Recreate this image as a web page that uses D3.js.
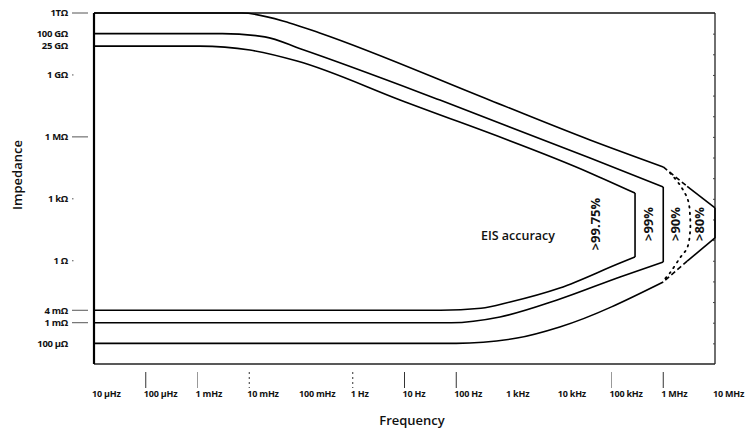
<!DOCTYPE html>
<html>
<head>
<meta charset="utf-8">
<script src="https://cdn.jsdelivr.net/npm/d3@7"></script>
<style>
  body { margin: 0; background: #fff; }
  text { font-family: "Open Sans", "DejaVu Sans", sans-serif; fill: #111; }
</style>
</head>
<body>
<div id="chart"></div>
<script>

// Impedance vs frequency, EIS accuracy contour chart

const width = 752;
const height = 432;
const margin = {left: 94, right: 37, top: 13, bottom: 68};

// x axis: frequency ticks (Hz) and labels
const freqTicks = [1e-5, 1e-4, 1e-3, 1e-2, 1e-1, 1, 10, 100, 1e3, 1e4, 1e5, 1e6, 1e7];
const freqLabels = ["10 µHz", "100 µHz", "1 mHz", "10 mHz", "100 mHz", "1 Hz", "10 Hz",
                    "100 Hz", "1 kHz", "10 kHz", "100 kHz", "1 MHz", "10 MHz"];
const freqTickMark = ["none", "solid", "gray", "dotted", "none", "dotted", "solid",
                      "solid", "none", "none", "gray", "solid", "none"];

// y axis: impedance ticks (Ohm) and labels
const impTicks = [1e12, 1e11, 2.5e10, 1e9, 1e6, 1e3, 1, 4e-3, 1e-3, 1e-4];
const impLabels = ["1TΩ", "100 GΩ", "25 GΩ", "1 GΩ", "1 MΩ", "1 kΩ", "1 Ω", "4 mΩ", "1 mΩ", "100 µΩ"];
const impTickMark = ["line", "none", "none", "dot", "line", "dot", "dot", "line", "line", "none"];

// accuracy boundaries, [frequency, impedance]
// >80% (outer)
const upper80 = [[1e-5, 1e12], [7.2e-3, 1e12], [0.06, 3.3e11], [0.23, 1.07e11], [437, 6.1e7],
                 [3.85e4, 7.1e5], [1e6, 3.5e4]];
const tip80 = [[1e6, 3.5e4], [2.9e6, 4.0e3], [1e7, 360], [1e7, 12.7], [2.9e6, 0.96], [1e6, 0.094]];
const tip80Dashed = [true, false, false, false, true];
const lower80 = [[1e-5, 1e-4], [100, 1e-4], [1.5e3, 1.8e-4], [1e4, 6.2e-4], [1e6, 0.094]];

// >90% (dotted)
const edge90 = [[1.35e6, 1.8e4], [2.1e6, 4.7e3], [3.0e6, 880], [3.3e6, 148], [3.3e6, 25],
                [2.9e6, 4.2], [2.1e6, 1.37], [1.35e6, 0.26], [1.03e6, 0.117]];

// >99%
const upper99 = [[1e-5, 1e11], [3e-3, 1e11], [0.02, 7e10], [0.1, 1.8e10], [48.5, 6.1e7],
                 [3.85e4, 9.5e4], [1e6, 3750]];
const lower99 = [[1e-5, 1e-3], [80, 1e-3], [700, 1.9e-3], [8.9e3, 0.0126], [1.46e5, 0.164], [1e6, 0.875]];

// >99.75%
const upper9975 = [[1e-5, 2.5e10], [1.1e-3, 2.5e10], [0.0103, 1.6e10], [0.084, 4.7e9], [8.2, 6.1e7],
                   [3.85e4, 1.8e4], [2.85e5, 1900]];
const lower9975 = [[1e-5, 4e-3], [50, 4e-3], [300, 5e-3], [1.1e3, 0.0101], [1e4, 0.048],
                   [1.46e5, 0.78], [2.85e5, 1.53]];

// region labels
const regionLabels = [">99.75%", ">99%", ">90%", ">80%"];
const regionLabelFreq = [4.8e4, 5.1e5, 1.7e6, 5.1e6];
const regionLabelImp = 60;

const svg = d3.select("#chart")
  .append("svg")
  .attr("width", width)
  .attr("height", height);

// scales
const x = d3.scaleLog()
  .domain([1e-5, 1e7])
  .range([margin.left, width - margin.right]);

const y = d3.scaleLog()
  .domain([1e-5, 1e12])
  .range([height - margin.bottom, margin.top]);

/*
  Frame
*/
const x0 = x.range()[0], x1 = x.range()[1];
const y0 = y.range()[0], y1 = y.range()[1];

svg.append("line").attr("x1", x0).attr("x2", x1).attr("y1", y1).attr("y2", y1)
  .attr("stroke", "#111").attr("stroke-width", 1.5);
svg.append("line").attr("x1", x0).attr("x2", x1).attr("y1", y0).attr("y2", y0)
  .attr("stroke", "#222").attr("stroke-width", 1.3);
svg.append("line").attr("x1", x0).attr("x2", x0).attr("y1", y1).attr("y2", y0)
  .attr("stroke", "#000").attr("stroke-width", 2.2);
svg.append("line").attr("x1", x1).attr("x2", x1).attr("y1", y1).attr("y2", y0)
  .attr("stroke", "#222").attr("stroke-width", 1.3);

// small decade ticks on right border
svg.append("g")
  .attr("transform", `translate(${x1},0)`)
  .call(d3.axisLeft(y).tickValues(d3.range(-4, 12).map(p => Math.pow(10, p)))
          .tickSize(2).tickFormat(""))
  .call(g => g.select(".domain").remove())
  .selectAll("line").attr("stroke", "#444");

/*
  X axis ticks and labels
*/
const xt = svg.append("g");

xt.selectAll(".xtick")
  .data(freqTicks.filter((d, i) => freqTickMark[i] !== "none"))
  .enter()
  .append("line")
    .attr("class", "xtick")
    .attr("x1", d => x(d)).attr("x2", d => x(d))
    .attr("y1", y0 + 8).attr("y2", y0 + 24)
    .attr("stroke", d => freqTickMark[freqTicks.indexOf(d)] === "gray" ? "#999" : "#333")
    .attr("stroke-width", 1)
    .attr("stroke-dasharray", d => freqTickMark[freqTicks.indexOf(d)] === "dotted" ? "2,3" : null);

xt.selectAll(".xlabel")
  .data(freqTicks)
  .enter()
  .append("text")
    .attr("class", "xlabel")
    .attr("x", d => x(d) - 2)
    .attr("y", y0 + 33)
    .attr("text-anchor", "start")
    .attr("font-size", "9px")
    .attr("font-weight", 700)
    .attr("letter-spacing", "-0.2px")
    .text((d, i) => freqLabels[i]);

svg.append("text")
  .attr("x", 412)
  .attr("y", 425)
  .attr("text-anchor", "middle")
  .attr("font-size", "13px")
  .attr("font-weight", 600)
  .text("Frequency");

/*
  Y axis ticks and labels
*/
const yt = svg.append("g");

yt.selectAll(".ylabel")
  .data(impTicks)
  .enter()
  .append("text")
    .attr("class", "ylabel")
    .attr("x", 68)
    .attr("y", d => y(d))
    .attr("dy", "0.35em")
    .attr("text-anchor", "end")
    .attr("font-size", "9.5px")
    .attr("font-weight", 700)
    .attr("letter-spacing", "-0.3px")
    .text((d, i) => impLabels[i]);

yt.selectAll(".ytick")
  .data(impTicks.filter((d, i) => impTickMark[i] !== "none"))
  .enter()
  .append("line")
    .attr("class", "ytick")
    .attr("x1", 72)
    .attr("x2", d => impTickMark[impTicks.indexOf(d)] === "line" ? 88 : 73.5)
    .attr("y1", d => y(d)).attr("y2", d => y(d))
    .attr("stroke", "#555")
    .attr("stroke-width", 1);

svg.append("text")
  .attr("transform", `translate(22,175) rotate(-90)`)
  .attr("text-anchor", "middle")
  .attr("font-size", "13px")
  .attr("font-weight", 600)
  .text("Impedance");

/*
  Accuracy boundaries
*/
const smooth = d3.line()
  .x(d => x(d[0]))
  .y(d => y(d[1]))
  .curve(d3.curveMonotoneX);

const straight = d3.line()
  .x(d => x(d[0]))
  .y(d => y(d[1]));

const rounded = d3.line()
  .x(d => x(d[0]))
  .y(d => y(d[1]))
  .curve(d3.curveCatmullRom);

const curves = svg.append("g")
  .attr("fill", "none")
  .attr("stroke", "#000")
  .attr("stroke-width", 1.6)
  .attr("stroke-linejoin", "round");

// >99.75% and >99%
[[upper9975, lower9975], [upper99, lower99]].forEach(([up, low]) => {
  curves.append("path").attr("d", smooth(up));
  curves.append("path").attr("d", smooth(low));
  curves.append("path").attr("d", straight([up[up.length - 1], low[low.length - 1]]));
});

// >80%
curves.append("path").attr("d", smooth(upper80));
curves.append("path").attr("d", smooth(lower80));
tip80Dashed.forEach((dashed, i) => {
  curves.append("path")
    .attr("d", straight([tip80[i], tip80[i + 1]]))
    .attr("stroke-dasharray", dashed ? "5,3" : null);
});

// >90%
curves.append("path")
  .attr("d", rounded(edge90))
  .attr("stroke-width", 1.8)
  .attr("stroke-dasharray", "1.5,5")
  .attr("stroke-linecap", "round");

/*
  Labels
*/
svg.selectAll(".region")
  .data(regionLabels)
  .enter()
  .append("text")
    .attr("class", "region")
    .attr("transform", (d, i) => `translate(${x(regionLabelFreq[i])},${y(regionLabelImp)}) rotate(-90)`)
    .attr("text-anchor", "middle")
    .attr("dy", "0.35em")
    .attr("font-size", "13px")
    .attr("font-weight", 700)
    .text(d => d);

svg.append("text")
  .attr("x", x(1.56e3))
  .attr("y", y(16))
  .attr("dy", "0.35em")
  .attr("text-anchor", "middle")
  .attr("font-size", "12.5px")
  .attr("font-weight", 600)
  .text("EIS accuracy");

</script>
</body>
</html>
